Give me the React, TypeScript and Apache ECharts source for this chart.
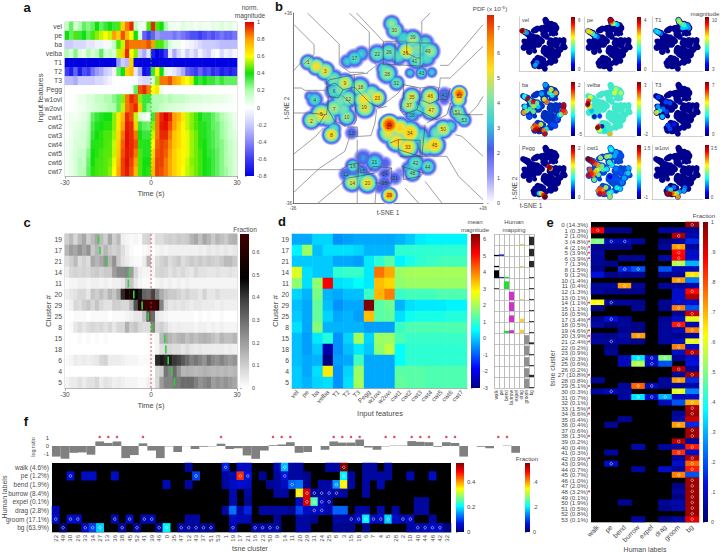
import React, { useEffect, useRef } from "react";
import * as echarts from "echarts";

const FONT = "Liberation Sans";
const INK = "#4a4a4a";

// ---------- panel a ----------
const featureNames = ["vel","pe","ba","velba","T1","T2","T3","Pegg","w1ovi","w2ovi","cwt1","cwt2","cwt3","cwt4","cwt5","cwt6","cwt7"];
const timeBins = ["-30","-28.5","-27","-25.5","-24","-22.5","-21","-19.5","-18","-16.5","-15","-13.5","-12","-10.5","-9","-7.5","-6","-4.5","-3","-1.5","0","1.5","3","4.5","6","7.5","9","10.5","12","13.5","15","16.5","18","19.5","21","22.5","24","25.5","27","28.5"];
const aVel = [.15,.3,.1,.2,.3,.25,.3,.4,.3,.35,.4,.35,.45,.7,.85,.95,.15,.05,.03,.45,.95,.45,.4,.2,.05,.04,.03,.08,.04,.06,.03,.06,.04,.03,.07,.05,.1,.05,.08,.03];
const aPe = [.4,.3,.45,.35,.4,.3,.45,.5,.55,.6,.55,.8,.7,.9,.75,.6,.4,.1,-.5,-.6,-.5,-.35,-.4,-.4,-.4,-.45,-.4,-.45,-.5,-.55,-.55,-.6,-.55,-.5,-.55,-.5,-.45,-.5,-.5,-.45];
const aBa = [-.2,-.2,-.15,-.15,-.15,-.1,-.1,-.05,-.05,-.03,.05,.15,.45,.55,.9,.85,.85,.85,.85,.9,.8,.45,.45,.25,.1,.05,.05,0,-.03,-.05,-.1,-.15,-.2,-.2,-.2,-.22,-.25,-.25,-.25,-.25];
const aVelba = [.2,.1,.25,.1,.05,.2,.1,.15,.3,.1,.15,.1,.55,.7,.95,.6,.5,-.2,-.3,-.1,-.7,-.8,-.75,-.6,-.1,-.3,-.15,-.05,-.2,-.1,-.2,-.05,-.15,-.2,-.05,.02,-.15,-.05,-.1,-.03];
const aT1 = [-.8,-.8,-.8,-.8,-.8,-.8,-.8,-.8,-.8,-.8,-.8,-.8,-.35,-.2,-.25,.7,-.8,-.8,-.8,-.8,-.8,-.8,-.8,-.8,-.8,-.8,-.8,-.8,-.8,-.8,-.8,-.8,-.8,-.8,-.8,-.8,-.8,-.8,-.8,-.8];
const aT2 = [-.6,-.7,-.5,-.7,-.55,-.6,-.45,-.35,-.3,-.2,-.15,-.05,.3,.4,.7,.75,-.1,-.3,-.75,-.7,.35,.6,.4,.1,-.05,-.1,-.2,-.3,-.5,-.55,-.6,-.5,-.6,-.55,-.65,-.6,-.7,-.65,-.7,-.65];
const aT3 = [-.25,-.25,-.3,-.2,-.2,-.2,-.2,-.15,-.15,-.1,-.05,0,0,0,0,0,-.02,-.1,-.15,-.15,.1,.5,.85,.85,.9,.8,.75,.65,.6,.55,.4,.35,.4,.35,.35,.3,.35,.3,.3,.3];
const aPegg = [0,0,0,0,0,0,0,0,0,0,0,0,0,0,0,.05,.3,.9,.95,.85,.6,.65,.05,0,0,0,0,0,0,0,0,0,0,0,0,0,0,0,0,0];
const aW1ovi = [0,0,.02,.05,.05,.1,.1,.15,.15,.2,.2,.25,.3,.5,.85,.95,.9,.5,.35,.35,.2,.2,.2,.15,.2,.15,.15,.15,.12,.1,.1,.1,.08,.08,.07,.06,.06,.05,.03,.02];
const aW2ovi = [0,0,.02,.03,.05,.08,.1,.12,.15,.15,.2,.2,.3,.55,.85,.9,.95,.7,.35,.25,.2,.2,.15,.12,.1,.1,.08,.08,.06,.05,.05,.04,.03,.03,.02,.02,.02,.01,.01,0];
const aCwt1 = [.02,.05,.03,.05,.08,.12,.3,.35,.38,.4,.4,.5,.65,.75,.95,.9,.55,.1,.05,.02,.35,.85,.95,1,.95,.8,.75,.65,.55,.5,.45,.4,.35,.35,.3,.25,.2,.15,.1,.05];
const aCwt2 = [.02,.05,.06,.08,.1,.15,.33,.38,.4,.42,.42,.5,.65,.8,.97,.95,.7,.35,.3,.28,.5,.85,.97,.98,.9,.8,.7,.62,.55,.5,.45,.42,.38,.35,.3,.28,.22,.18,.12,.06];
const aCwt3 = [.02,.04,.08,.1,.12,.18,.35,.4,.42,.45,.45,.52,.68,.85,.98,.95,.85,.4,.35,.35,.55,.85,.95,.95,.85,.72,.68,.62,.58,.52,.48,.42,.38,.35,.32,.28,.22,.18,.12,.08];
const aCwt4 = [.03,.05,.1,.1,.12,.2,.38,.42,.42,.45,.46,.55,.7,.88,.98,.95,.9,.42,.38,.38,.6,.88,.92,.9,.82,.72,.68,.62,.58,.52,.48,.42,.4,.35,.32,.28,.25,.2,.15,.1];
const aCwt5 = [.03,.06,.1,.14,.14,.25,.4,.42,.44,.46,.46,.55,.72,.9,.97,.95,.85,.45,.38,.38,.68,.9,.92,.88,.8,.7,.65,.62,.58,.52,.48,.44,.4,.36,.34,.3,.25,.2,.15,.1];
const aCwt6 = [.03,.06,.1,.18,.15,.28,.4,.44,.44,.46,.48,.58,.75,.92,.98,.92,.8,.45,.4,.4,.72,.92,.92,.85,.78,.7,.65,.62,.56,.5,.48,.44,.4,.38,.34,.3,.25,.2,.16,.1];
const aCwt7 = [.03,.06,.1,.18,.18,.3,.42,.44,.45,.46,.5,.6,.78,.92,.97,.9,.75,.45,.4,.42,.75,.92,.9,.85,.78,.7,.65,.6,.55,.52,.48,.44,.4,.38,.34,.3,.25,.22,.16,.1];
const aRows = [aVel,aPe,aBa,aVelba,aT1,aT2,aT3,aPegg,aW1ovi,aW2ovi,aCwt1,aCwt2,aCwt3,aCwt4,aCwt5,aCwt6,aCwt7];

// ---------- panel b (embedding read in picture units) ----------
const blobs = [
[395,72,4.2,28],[405,92,4.4,30],[430,115,3.4,30],[458,118,4.4,32],[495,130,3.6,30],[510,155,4.4,32],[440,155,5.2,34],[470,150,4,36],[470,180,4,34],[500,175,3.6,30],[352,163,4,32],[387,158,4,34],[415,170,3.6,30],
[484,220,3.6,22],[450,220,3.2,18],[515,218,3.2,18],[382,222,4.4,34],[372,208,3.8,26],[410,250,4,26],
[284,176,3.6,30],[305,162,3.2,26],[262,185,3.2,24],
[145,188,4.4,26],[170,200,5.2,30],[196,214,5,32],[222,238,4,32],
[255,250,5,32],[300,262,4.6,34],[240,270,4,32],[265,297,4.4,32],[222,275,3.6,30],[312,300,5.2,36],[315,325,5,34],[352,294,5.4,30],[335,280,4.4,30],
[165,300,3.6,28],[150,290,3,18],[223,325,4.5,32],[185,344,5.2,38],[155,362,4.8,30],[205,355,4.5,30],[261,352,4.4,30],[250,330,4,30],[240,305,4,30],
[215,405,5.4,30],[222,388,3.8,24],[275,400,2.4,22],
[455,291,5,30],[447,315,4.8,32],[456,346,3.2,26],[475,330,3.5,26],[510,290,5.2,32],[513,331,5,34],[500,310,4.5,30],[553,285,2.6,26],[552,300,2.2,20],
[597,282,6.8,26],[595,300,5.2,26],[592,337,4.4,28],[612,361,3.8,24],[600,350,4,26],
[388,375,7.2,34],[385,400,5,36],[420,385,5.4,36],[449,399,5.6,40],[443,442,5.4,38],[410,425,5.4,36],[480,410,3.6,36],[495,430,4.2,30],[523,436,5.6,36],[500,440,4.8,32],[549,388,5,32],[530,400,4,30],[570,380,3.6,24],
[466,491,3.8,32],[503,501,3.8,28],[457,521,4,28],[445,505,3,24],
[344,488,3.4,34],[310,475,2.6,30],[375,490,2.2,22],[279,499,3.8,26],[258,524,2.6,24],[307,514,2.8,24],[277,548,4.8,32],[323,550,5.2,34],[300,535,3.5,28],
[375,522,2.2,24],[374,550,2.4,26],[405,535,2.3,24],[360,565,2.2,20],[388,587,6.2,26],[420,520,1.5,20],
];
const clusterTags = [
[403,90,"30"],[458,113,"39"],[436,160,"36"],[503,155,"49"],[463,184,"41"],[352,163,"22"],[387,158,"26"],[484,221,"43"],[382,224,"28"],[409,250,"32"],[284,176,"17"],[145,188,"1"],[196,214,"3"],[255,250,"9"],[302,262,"18"],[223,273,"6"],[265,297,"12"],[352,294,"23"],[312,322,"19"],[165,300,"4"],[223,328,"7"],[185,344,"5"],[155,364,"2"],[261,352,"10"],[215,405,"8"],[275,400,"13"],[455,291,"35"],[447,315,"37"],[456,346,"38"],[510,290,"46"],[513,331,"47"],[553,285,"40"],[597,288,"52"],[592,337,"51"],[612,361,"53"],[388,383,"27"],[449,399,"34"],[443,442,"33"],[549,388,"50"],[523,436,"45"],[466,491,"42"],[503,501,"44"],[457,521,"48"],[344,488,"21"],[279,499,"16"],[258,524,"11"],[307,514,"15"],[277,550,"14"],[323,550,"20"],[375,522,"24"],[374,551,"25"],[405,535,"31"],[388,587,"29"],
];
const outerEdges = [
[[100,72],[163,135],[163,165],[130,195]],
[[143,40],[238,133],[238,195],[270,218],[312,218]],
[[268,40],[328,97],[328,165],[350,197],[322,218]],
[[290,40],[370,125],[440,125]],
[[510,40],[485,65],[485,130],[440,128]],
[[668,75],[565,197],[540,197]],
[[668,140],[570,235],[540,235],[538,265],[520,260],[480,265]],
[[100,215],[127,185]],
[[100,265],[125,265],[135,272],[205,272]],
[[100,340],[150,340]],
[[100,465],[168,410],[190,385]],
[[100,510],[245,510]],
[[100,580],[180,505],[255,455],[270,410],[300,410],[333,408],[345,370],[350,330],[415,280],[430,255]],
[[175,610],[265,535]],
[[292,610],[292,420]],
[[345,610],[350,555],[370,545]],
[[475,610],[435,565]],
[[545,610],[495,545]],
[[668,600],[595,530],[560,470],[500,470]],
[[668,470],[605,410],[585,405]],
[[668,290],[650,320],[625,345],[668,345]],
];
const innerEdges = [
[[370,125],[370,195]],
[[405,130],[405,195],[370,195]],
[[405,195],[500,200]],
[[440,128],[440,160],[470,175],[480,175],[480,130]],
[[480,175],[480,195]],
[[485,130],[512,130]],
[[205,272],[200,250],[210,240],[235,235],[283,225],[325,220]],
[[283,225],[283,300],[290,360],[283,375]],
[[200,262],[225,250],[250,270],[235,295],[210,290],[200,262]],
[[250,270],[285,262]],
[[250,290],[280,320]],
[[205,290],[205,330],[225,365],[245,372],[258,380]],
[[283,262],[330,310],[360,325],[380,320]],
[[150,340],[200,345],[205,310]],
[[175,378],[195,345]],
[[262,382],[292,382],[292,412]],
[[430,255],[480,265],[480,300],[470,330],[430,345],[420,330],[430,290],[430,255]],
[[535,265],[535,300],[560,300],[570,265]],
[[480,300],[510,312],[535,300]],
[[470,330],[530,360],[560,345],[570,310],[580,345],[630,345]],
[[500,370],[540,345]],
[[495,375],[485,470]],
[[415,420],[480,422],[480,470],[415,450],[415,420]],
[[390,430],[415,420]],
[[430,500],[430,540],[480,530],[490,520],[425,500]],
[[420,470],[500,470]],
[[360,525],[395,505],[395,550],[345,550]],
[[245,510],[265,495],[295,490],[305,500],[325,520],[340,500],[395,505]],
[[295,490],[295,530]],
[[265,535],[295,530],[345,520]],
];
const pdfTicks = [0,1,2,3,4,5,6,7];

// small t-SNE maps: hot spots [x, y, normalised magnitude]
const velSpots = [[160,195,.5],[185,205,.3],[300,520,.25],[280,550,.3],[145,188,.85],[130,185,1]];
const peSpots = [[250,250,.25],[222,238,.35],[470,120,.35],[440,110,.4],[196,214,.45],[420,110,.55],[145,188,.6],[170,200,.65],[405,92,.8],[395,72,.9],[400,75,.95]];
const t1Spots = [[196,214,.25],[495,130,.3],[510,155,.3],[440,155,.35],[470,150,.35],[145,188,.35],[170,200,.35],[430,115,.45],[458,118,.45],[395,72,.5],[405,92,.55]];
const baSpots = [[215,405,.2],[523,436,.2],[466,491,.2],[503,501,.2],[395,72,.3],[352,163,.3],[170,200,.35],[312,300,.35],[549,388,.35],[160,190,.4],[165,300,.4],[470,180,.4],[405,535,.4],[222,238,.45],[240,270,.45],[223,325,.45],[440,155,.45],[185,344,.5],[300,262,.5],[261,352,.5],[570,380,.5],[265,297,.55],[344,488,.6],[458,118,.6],[382,222,.6],[155,362,.7],[510,155,.7],[258,524,.7],[612,361,.75],[410,250,.75],[307,514,.75],[375,550,.75],[279,499,.8],[600,350,.8],[592,337,.85],[255,250,.9],[597,282,.9],[300,535,.9],[388,587,.9],[196,214,.95],[595,300,.95],[277,548,.95],[323,550,1]];
const velbaSpots = [[300,510,.05],[215,405,.05],[275,400,.15],[185,344,.3],[323,550,.35],[510,155,.55],[458,118,.55],[170,200,.6],[440,155,.6],[165,300,.65],[388,587,.7],[277,548,.6],[262,510,.85],[150,240,.85],[140,280,.95],[145,267,1],[250,523,1]];
const t3Spots = [[344,488,.15],[170,200,.2],[255,250,.2],[300,262,.2],[261,352,.2],[300,535,.2],[279,499,.2],[223,325,.25],[165,300,.3],[215,405,.35],[185,344,.4],[150,362,.6]];
const peggSpots = [[323,550,.35],[345,550,.55],[360,560,.7],[375,570,.9],[388,587,1],[450,290,.7],[430,270,.85],[440,280,1]];
const cwt1Spots = [[388,375,.1],[510,155,.2],[513,331,.2],[449,399,.2],[455,291,.25],[523,436,.25],[458,118,.3],[440,155,.3],[597,282,.3],[549,388,.3],[395,72,.35],[592,337,.35],[503,501,.35],[405,92,.4],[352,294,.4],[410,250,.4],[466,491,.4],[405,535,.4],[312,300,.45],[382,222,.45],[375,550,.45],[300,262,.5],[261,352,.5],[215,405,.5],[387,158,.5],[265,297,.55],[352,163,.55],[284,176,.55],[344,488,.55],[388,587,.55],[240,305,.6],[223,325,.7],[255,250,.7],[307,514,.7],[205,355,.75],[258,524,.75],[222,238,.8],[165,300,.8],[279,499,.8],[185,344,.85],[323,550,.85],[196,214,.9],[155,362,.9],[277,548,.9],[170,200,.95],[145,188,1]];
const w1oviSpots = [[279,499,.25],[344,488,.25],[466,491,.25],[405,535,.3],[457,521,.3],[307,514,.4],[375,550,.5],[345,555,.65],[388,587,.7],[323,550,.8],[277,548,.9],[300,560,1]];

// ---------- panel c ----------
const clusterRows = ["19","17","21","14","11","20","29","25","8","15","18","6","4","5"];
const cC19 = [.1,.14,.08,.14,.18,.1,.14,.18,.14,.1,.18,.1,.14,.03,.02,.01,.02,.01,.08,.09,.02,.07,.07,.09,.1,.09,.11,.1,.11,.15,.18,.13,.18,.15,.11,.15,.13,.11,.15,.16];
const cC17 = [.15,.2,.18,.22,.18,.22,.11,.15,.11,.15,.11,.09,.11,.07,.03,.01,0,0,.01,.02,0,.02,.03,.02,.03,.03,.03,.03,.03,.03,.03,.04,.03,.05,.04,.05,.04,.05,.04,.05];
const cC21 = [.07,.1,.14,.07,.09,.07,.18,.15,.18,.22,.15,.22,.11,.06,.04,.02,.01,.01,.04,.15,.02,.07,.09,.11,.07,.09,.11,.07,.09,.11,.09,.11,.09,.11,.1,.09,.11,.14,.14,.11];
const cC14 = [.04,.08,.09,.08,.09,.08,.1,.11,.09,.11,.11,.2,.24,.24,.25,.2,.08,.03,.02,.02,.02,.08,.09,.08,.06,.08,.06,.08,.06,.05,.08,.06,.06,.05,.05,.06,.05,.05,.06,.05];
const cC11 = [.01,.02,.02,.03,.03,.02,.03,.03,.02,.03,.02,.03,.03,.05,.12,.12,.05,.02,.01,.01,0,.02,.03,.02,.03,.02,.03,.02,.03,.02,.02,.02,.02,.02,.02,.02,.02,.02,.02,.02];
const cC20 = [.03,.05,.06,.08,.08,.05,.12,.1,.13,.1,.15,.12,.18,.42,.56,.56,.5,.45,.32,.3,.38,.25,.17,.13,.11,.11,.09,.07,.09,.07,.07,.05,.09,.05,.05,.07,.05,.05,.05,.05];
const cC29 = [.01,.03,.08,.07,.1,.12,.08,.12,.08,.06,.06,.1,.1,.08,.08,.15,.35,.6,.65,.65,.68,.62,.25,.08,.05,.06,.05,.06,.05,.04,.05,.05,.04,.04,.04,.03,.04,.03,.03,.03];
const cC25 = [0,0,.01,.01,.01,0,.01,.01,.01,.01,0,.01,.01,.01,.02,.03,.05,.05,.12,.35,.3,.05,.03,.02,.01,.01,.01,.01,.01,.01,0,.01,0,.01,0,0,.01,0,0,0];
const cC8 = [0,.01,.05,.07,.05,.07,.08,.07,.08,.06,.08,.05,.08,.08,.16,.1,.12,.08,.07,.07,.25,.08,.1,.07,.04,.03,.04,.03,.03,.03,.02,.03,.03,.02,.03,.02,.03,.02,.02,.02];
const cC15 = [0,0,0,.01,0,.01,0,.01,0,.01,0,0,0,0,0,0,0,0,0,.01,.01,.02,.14,.18,.15,.13,.15,.16,.13,.15,.13,.15,.16,.15,.13,.11,.15,.13,.13,.15];
const cC18 = [0,0,0,0,0,0,0,0,0,0,0,0,0,0,0,0,0,0,0,0,0,.02,.07,.08,.08,.07,.07,.05,.07,.05,.04,.05,.04,.04,.04,.04,.04,.03,.04,.03];
const cC6 = [.01,.02,.04,.03,.04,.03,.04,.05,.08,.09,.04,.04,.04,.03,.02,.02,.02,.01,.01,.01,.02,.42,.45,.42,.44,.4,.38,.34,.3,.25,.28,.25,.22,.28,.24,.22,.25,.22,.2,.22];
const cC4 = [0,0,0,0,0,0,0,0,0,0,0,0,0,0,0,0,0,0,0,0,0,.08,.1,.28,.25,.3,.22,.15,.16,.15,.14,.15,.16,.15,.14,.15,.14,.15,.14,.15];
const cC5 = [.02,.04,.04,.06,.04,.06,.06,.08,.04,.06,.05,.03,.04,.03,.02,.02,.02,.01,.01,.03,.02,.08,.2,.25,.25,.28,.27,.3,.3,.3,.26,.22,.24,.26,.2,.22,.2,.22,.2,.18];
const cRows = [cC19,cC17,cC21,cC14,cC11,cC20,cC29,cC25,cC8,cC15,cC18,cC6,cC4,cC5];
const cPeakTimes = [-18.3,-17.8,-15.5,-7.9,-7.9,-6,-3.1,-1,.3,4.8,5.2,6,7.2,8.2];

// ---------- panel d ----------
const dRows = [
[-.3,-.3,.1,.1,-.5,-.4,-.3,-.3,-.3,-.3,-.2,0,.3,.4,.4,.4,.4],
[.4,1.9,-.1,.2,.2,.2,.1,-.2,-.2,-.2,.9,.9,.9,.9,.9,.9,.9],
[0,0,0,0,-.3,-.3,-.4,.3,.9,1.3,.4,.7,.9,1,1.1,1.1,1.1],
[2.5,.2,0,0,.9,1,1,.3,4.1,3.6,1.9,2,2,2,2,2,2],
[1.8,.2,1.8,5.2,.2,.3,.5,.3,3.4,3.2,1.8,1.9,1.9,1.9,1.9,1.9,1.9],
[.1,-.2,1.6,-.2,-.3,-.1,-.1,1,3.5,4,1,1.1,1.1,1.1,1.2,1.2,1.2],
[-.1,-.3,1.4,-.1,-.5,-.3,-.3,6.3,1.3,1.5,-.2,.2,.3,.3,.3,.4,.4],
[0,-.3,1.4,.1,-.3,-.2,-.4,3.4,1.3,1.4,.2,.6,.7,.7,.7,.8,.8],
[.2,-.3,1.7,-.2,-.2,-.2,-.2,-.4,-.4,-.4,1,1.2,1.2,1.2,1.2,1.2,1.2],
[-.1,-.4,.3,.8,-.5,.1,2,.1,1.9,1.9,1.2,1,1,1,1,1,1],
[-.1,-.4,0,-2.6,-.5,-.1,.3,0,1.8,2.2,.5,.9,.9,.9,.9,.9,.9],
[-.1,-.3,-.2,-3,-.4,-.3,1.1,-.3,-.3,-.3,.5,.9,.9,.9,.9,.9,.9],
[0,-.3,.2,3,-.5,.1,1.9,-.3,-.3,-.3,1.3,1.3,1.3,1.2,1.2,1.2,1.2],
[0,-.2,.1,.2,-.5,.2,2,-.3,-.3,-.3,1.4,1.3,1.3,1.2,1.2,1.2,1.2],
];
const humanNames = ["walk","pe","bend","burrow","expel","drag","groom","bg"];
// human mapping: [human column, cluster row, fraction]
const mapBars = [
[7,0,.75],[5,0,.1],[1,1,.15],[0,1,.1],[7,1,.65],[0,2,.1],[5,2,.08],[7,2,.55],[0,3,.7],[1,3,.1],[2,3,.1],[7,3,.08],
[2,4,.7],[0,4,.06],[7,4,.08],[3,5,.75],[5,5,.08],[7,5,.08],[3,6,.8],[7,6,.08],[3,7,.6],[5,7,.3],[7,7,.08],
[2,8,.2],[3,8,.25],[5,8,.3],[7,8,.08],[6,9,.8],[7,9,.15],[6,10,.85],[7,10,.08],[6,11,.8],[7,11,.08],[6,12,.8],[7,12,.2],[6,13,.85],[7,13,.08],
];

// ---------- panel e ----------
const eRowLabels = ["0 (14.3%)","1 (0.3%)","2 (1.0%)","3 (4.8%)","4 (2.1%)","5 (3.9%)","6 (3.9%)","7 (1.3%)","8 (1.5%)","9 (1.2%)","10 (1.4%)","11 (0.4%)","12 (1.3%)","13 (0.1%)","14 (1.1%)","15 (1.1%)","16 (0.5%)","17 (3.4%)","18 (0.5%)","19 (4.6%)","20 (3.9%)","21 (2.4%)","22 (0.2%)","23 (0.9%)","24 (0.3%)","25 (0.6%)","26 (0.2%)","27 (10.8%)","28 (0.8%)","29 (5.1%)","30 (0.3%)","31 (0.7%)","32 (0.1%)","33 (1.5%)","34 (6.6%)","35 (0.4%)","36 (0.4%)","37 (0.6%)","38 (1.3%)","39 (0.2%)","40 (0.4%)","41 (0.3%)","42 (0.9%)","43 (0.9%)","44 (0.7%)","45 (0.7%)","46 (1.0%)","47 (2.0%)","48 (3.2%)","49 (0.1%)","50 (1.9%)","51 (0.5%)","52 (0.8%)","53 (0.1%)"];
const eRows = [
[0,0,0,0,0,0,0,.98],
[.88,.03,.03,0,0,.05,.05,.05],
[0,0,0,0,0,0,.95,.07],
[.5,.08,.08,.05,0,.02,.05,.15],
[.03,.03,.03,0,0,.05,.72,.05],
[.05,0,0,0,0,0,.87,.1],
[.05,0,.04,.04,0,.06,.88,.1],
[.04,.03,0,0,0,0,.55,.3],
[.03,0,.15,.2,0,.2,.08,.08],
[.12,.03,.04,.04,0,.03,.05,.65],
[0,0,0,0,0,0,.72,.25],
[.05,.05,.72,.05,0,.05,.05,.06],
[.05,.03,.03,.03,0,0,.1,.87],
[0,0,0,0,0,0,.1,.95],
[.62,.05,.05,.03,0,.04,.1,.1],
[.03,0,0,.04,0,.03,.75,.2],
[0,0,0,0,0,0,.04,.93],
[.03,.12,.04,0,0,.03,.1,.6],
[.06,.02,.05,.03,0,.05,.85,.07],
[0,0,.03,.02,0,.05,.08,.75],
[.04,.03,.06,.72,0,.05,.03,.05],
[.05,.05,.05,.03,0,.05,.08,.6],
[0,.02,0,0,0,0,.75,.1],
[0,.04,0,0,0,0,.1,.95],
[0,0,.08,.35,.1,.5,.04,.1],
[0,0,.08,.55,.1,.2,0,.12],
[0,0,0,0,0,0,.95,.05],
[0,0,0,0,0,0,.05,.97],
[.04,0,0,0,0,.05,.72,.15],
[0,0,.05,.78,.08,.04,.05,.06],
[.05,.08,.05,0,0,0,.6,.25],
[0,0,.05,.35,.1,.3,.08,.1],
[0,0,0,0,0,.08,.2,.7],
[0,0,0,0,0,0,0,.95],
[0,0,0,0,0,0,.04,.97],
[0,0,.04,0,0,0,.06,.93],
[0,.04,0,0,0,0,.72,.15],
[0,0,0,0,0,0,0,.97],
[0,0,0,0,0,0,0,.97],
[0,0,0,0,0,0,.95,.05],
[0,0,0,.06,0,.05,.06,.85],
[0,.05,0,0,0,0,.83,.1],
[0,0,0,0,0,0,.05,.95],
[0,.1,0,0,0,0,.1,.78],
[0,0,0,.05,0,.1,.05,.85],
[0,0,0,0,0,0,.75,.2],
[0,0,0,0,0,0,0,.97],
[0,0,0,0,0,0,.02,.97],
[0,0,0,0,0,0,.05,.97],
[0,0,0,0,0,0,.02,.97],
[0,0,.04,0,0,.05,.06,.97],
[0,0,0,0,0,.03,.06,.97],
[0,0,0,0,0,0,0,.97],
[0,0,0,.05,0,.02,.05,.9],
];
// significant cells: [human column, cluster row]
const eMarks = [[7,0],[0,1],[6,2],[0,3],[1,3],[2,3],[6,4],[6,5],[6,6],[6,7],[2,8],[3,8],[7,9],[6,10],[2,11],[7,12],[0,14],[1,14],[6,15],[7,16],[1,17],[6,18],[7,19],[3,20],[1,21],[7,21],[6,22],[7,23],[3,24],[4,24],[5,24],[3,25],[4,25],[6,26],[7,27],[6,28],[3,29],[4,29],[1,30],[6,30],[3,31],[4,31],[5,31],[7,32],[7,33],[7,34],[6,36],[7,37],[7,38],[6,39],[7,40],[6,41],[7,42],[1,43],[7,43],[7,44],[6,45],[7,46],[7,47],[7,48],[7,49],[7,50],[7,51],[7,52],[7,53]];
const eStarRows = [3,4,5,6,14,17,19,20,21,27,29,33,34,38,42,48];

// ---------- panel f ----------
const fClusters = ["22","49","30","26","33","34","27","13","36","38","45","52","41","39","46","0","35","47","12","43","37","51","53","1","19","17","21","16","23","50","9","14","11","20","29","31","24","25","8","3","15","18","6","7","4","5","28","2","10","40","44","48","42","32"];
const fHuman = ["walk (4.6%)","pe (1.2%)","bend (1.9%)","burrow (8.4%)","expel (0.1%)","drag (2.8%)","groom (17.1%)","bg (63.9%)"];
const fWalk = {18:.03,23:.08,25:.05,26:.05,30:.04,31:.17,32:.03,33:.03,37:.03,38:.03,39:.55,42:.03,43:.03,45:.03};
const fPe = {2:.06,4:.05,5:.05,8:.05,19:.1,23:.03,24:.04,25:.46,26:.07,28:.02,30:.03,31:.07,32:.03,33:.03,34:.02,39:.2,40:.03,42:.03,43:.03,44:.03,45:.03,48:.04,51:.05};
const fBend = {15:.04,18:.03,23:.03,24:.05,25:.06,26:.05,29:.02,30:.03,31:.05,32:.12,33:.13,34:.02,36:.03,37:.03,38:.15,39:.35,40:.03,42:.03,44:.04};
const fBurrow = {24:.04,26:.03,30:.03,31:.03,33:.35,34:.5,35:.03,36:.03,37:.04,38:.03,39:.03,42:.03};
const fExpel = {24:.04,26:.02,33:.05,34:.5,35:.25,36:.05,37:.03,49:.03,50:.03};
const fDrag = {0:.04,23:.03,24:.13,25:.03,26:.08,28:.03,29:.03,30:.03,31:.03,32:.02,33:.1,34:.05,35:.05,36:.05,37:.04,38:.12,39:.12,41:.03,42:.03,44:.04,46:.03,49:.03,50:.03};
const fGroom = {0:.05,2:.05,3:.05,8:.04,10:.05,12:.04,13:.04,18:.03,19:.03,24:.05,25:.04,26:.04,30:.02,33:.03,34:.03,35:.02,38:.03,39:.03,40:.03,41:.05,42:.2,43:.05,44:.05,45:.18,46:.05,47:.04,48:.05,51:.03};
const fBg = {1:.01,4:.05,5:.1,6:.18,9:.03,11:.03,14:.03,15:.2,17:.03,18:.03,19:.03,20:.02,21:.02,24:.04,27:.03,28:.03,29:.03,30:.03,33:.03,34:.03,38:.02,39:.02,40:.02,42:.02,48:.03,49:.04,50:.04,51:.05,52:.05,53:.01};
const fRows = [fWalk,fPe,fBend,fBurrow,fExpel,fDrag,fGroom,fBg];
// significant cells: [cluster column, human row]
const fMarks = [[23,0],[31,0],[39,0],[2,1],[19,1],[25,1],[26,1],[31,1],[39,1],[32,2],[38,2],[39,2],[33,3],[34,3],[35,3],[36,3],[37,3],[38,3],[34,4],[35,4],[36,4],[37,4],[0,6],[2,6],[3,6],[8,6],[10,6],[12,6],[13,6],[35,5],[36,5],[40,6],[41,6],[42,6],[43,6],[44,6],[45,6],[47,6],[48,6],[1,7],[4,7],[5,7],[6,7],[9,7],[11,7],[14,7],[15,7],[17,7],[18,7],[19,7],[20,7],[21,7],[24,7],[27,7],[28,7],[29,7],[30,7],[49,7],[50,7],[51,7],[52,7]];
const logRatio = [-1.4,-1.7,-.9,-.85,-1.15,.6,.4,.6,-1.6,-1.2,.35,-.6,-1.6,-.05,-.8,-.02,-.4,-.1,-.05,.3,-.4,-.3,-1.25,-1.7,-.6,.1,.2,.5,-.9,-.8,0,-.5,.6,.45,.45,.85,-.2,-.5,-.05,.05,.05,.65,.55,.5,-.1,.5,.4,-1.4,0,-.1,-.3,0,.05,-.9];
const logStars = [5,6,7,10,19,25,26,27,32,33,34,35,38,39,41,42,43,45,46,51,52];

// ---------- colour scales ----------
const aColors = ["#0000e0","#3c3cf4","#8888fa","#ccccff","#ffffff","#b0ffb0","#10e010","#ffff00","#ffa000","#e00000"];
const greyColors = ["#ffffff","#d0d0d0","#a0a0a0","#707070","#404040","#000000","#200000","#400000"];
const jetColors = ["#00007f","#0000ff","#0080ff","#00ffff","#80ff80","#ffff00","#ff8000","#ff0000","#7f0000"];
const cellColors = ["#00006f","#0010e0","#0080ff","#00ffff","#80ff80","#ffff00","#ff8000","#ff0000","#7f0000"];
const pdfColors = ["#ffffff","#9a9af8","#4a5cea","#38cfd8","#8fe6a0","#ffe020","#ff9000","#e02000"];
const pdfLevels = [.12,.3,.5,.75,1,1.3,1.6,1.9,2.2,2.5,2.8,3.1,3.4,3.7,4,4.3,4.6,4.9,5.2,5.6,6,6.5,7];

function hex(c: string) { return [1,3,5].map((i) => parseInt(c.slice(i, i + 2), 16)); }
function ramp(colors: string[], t: number) {
  const p = Math.max(0, Math.min(1, t)) * (colors.length - 1);
  const i = Math.min(colors.length - 2, Math.floor(p));
  const a = hex(colors[i]); const b = hex(colors[i + 1]); const f = p - i;
  return `rgb(${a.map((v, k) => Math.round(v + (b[k] - v) * f)).join(",")})`;
}
// contour radius of a blob at density level x = level / peak
function contour(x: number) {
  return x < .8 ? 1 - .6 * x : .52 * Math.sqrt(Math.max(0, (1 - x) / .2));
}

function buildOption() {
  const grid: any[] = [], xAxis: any[] = [], yAxis: any[] = [], series: any[] = [], visualMap: any[] = [], graphic: any[] = [];
  const axisLabel = (size = 7.5, extra: any = {}) => ({ fontSize: size, color: INK, margin: 3, fontFamily: FONT, ...extra });
  const addGrid = (x0: number, y0: number, x1: number, y1: number, extra: any = {}) => {
    grid.push({ left: x0, top: y0, width: x1 - x0, height: y1 - y0, ...extra });
    return grid.length - 1;
  };
  const addX = (a: any) => { xAxis.push(a); return xAxis.length - 1; };
  const addY = (a: any) => { yAxis.push(a); return yAxis.length - 1; };
  const text = (t: string, x: number, y: number, size = 8, opt: any = {}) => {
    const { rotation, ...style } = opt;
    graphic.push({ type: "text", x, y, rotation: rotation || 0, z: 50, style: { text: t, fill: INK, fontSize: size, fontFamily: FONT, align: "center", verticalAlign: "middle", ...style } });
  };
  const heat = (g: number, xi: number, yi: number, data: any[], colors: string[], min: number, max: number) => {
    series.push({ type: "heatmap", xAxisIndex: xi, yAxisIndex: yi, data, progressive: 0, z: 2 });
    visualMap.push({ show: false, type: "continuous", seriesIndex: series.length - 1, dimension: 2, min, max, inRange: { color: colors } });
  };
  const colorbar = (x0: number, y0: number, x1: number, y1: number, colors: string[], min: number, max: number, ticks: number[], fmt: (v: number) => string, size = 7) => {
    graphic.push({ type: "rect", z: 40, shape: { x: x0, y: y0, width: x1 - x0, height: y1 - y0 }, style: { fill: new echarts.graphic.LinearGradient(0, 1, 0, 0, colors.map((c, i) => ({ offset: i / (colors.length - 1), color: c }))) } });
    const g = addGrid(x0, y0, x1, y1);
    addX({ gridIndex: g, type: "value", show: false, min: 0, max: 1 });
    addY({ gridIndex: g, type: "value", position: "right", min, max, axisLine: { show: false }, splitLine: { show: false },
      axisTick: { show: true, length: 1.5, customValues: ticks, lineStyle: { color: "#666", width: .6 } },
      axisLabel: axisLabel(size, { customValues: ticks, formatter: fmt, margin: 3 }) });
  };
  const thinLine = { lineStyle: { color: "#888", width: .7 } };
  const zeroLine = (g: number, xv: number, color: string) => {
    const yv = addY({ gridIndex: g, type: "value", min: 0, max: 1, show: false });
    series.push({ type: "line", xAxisIndex: xv, yAxisIndex: yv, z: 6, symbol: "none", silent: true, data: [[0, 0], [0, 1]], lineStyle: { color, type: [2, 2], width: .8 } });
  };

  // ----- a
  {
    const g = addGrid(65, 22, 237, 176, { show: true, borderColor: "#aaa", borderWidth: .7 });
    const xc = addX({ gridIndex: g, type: "category", data: timeBins, show: false });
    const xv = addX({ gridIndex: g, type: "value", min: -30, max: 30, interval: 30, position: "bottom", axisLine: { onZero: false, ...thinLine }, axisTick: { length: 3, ...thinLine }, splitLine: { show: false }, axisLabel: axisLabel(6.5) });
    const y = addY({ gridIndex: g, type: "category", data: featureNames, inverse: true, axisLine: thinLine, axisTick: { length: 2, ...thinLine }, axisLabel: axisLabel(6.8, { interval: 0 }) });
    const data: any[] = [];
    aRows.forEach((row, r) => row.forEach((v, c) => data.push([c, r, v])));
    heat(g, xc, y, data, aColors, -.8, 1);
    zeroLine(g, xv, "#20c020");
    colorbar(245, 22, 254, 176, aColors, -.8, 1, [-.8,-.6,-.4,-.2,0,.2,.4,.6,.8,1], (v) => String(+v.toFixed(1)), 5.5);
    text("norm.", 250, 7, 6.5); text("magnitude", 250, 15, 6.5);
    text("a", 27, 7, 13, { fontWeight: "bold", fill: "#111" });
    text("Input features", 40, 98, 8, { rotation: Math.PI / 2 });
    text("Time (s)", 151, 193, 7.5);
  }

  // ----- b
  {
    const g = addGrid(293, 13, 483, 203);
    const x = addX({ gridIndex: g, type: "value", min: 100, max: 668, position: "bottom", splitLine: { show: false },
      axisLine: { onZero: false, lineStyle: { color: "#555", width: .8 } },
      axisTick: { show: false }, axisLabel: axisLabel(4.5, { customValues: [100, 668], formatter: (v: number) => (v < 300 ? "-36" : "+36"), margin: 3 }) });
    const y = addY({ gridIndex: g, type: "value", min: 40, max: 610, inverse: true, position: "left", splitLine: { show: false },
      axisLine: { onZero: false, lineStyle: { color: "#555", width: .8 } },
      axisTick: { show: false }, axisLabel: axisLabel(4.5, { customValues: [40, 610], formatter: (v: number) => (v < 300 ? "+36" : "-36"), margin: 1 }) });
    const unit = 190 / 568;
    pdfLevels.forEach((t, i) => {
      series.push({ type: "scatter", xAxisIndex: x, yAxisIndex: y, z: 10 + i, silent: true,
        data: blobs.filter((b) => b[2] > t),
        symbolSize: (v: number[]) => 2 * v[3] * 1.08 * unit * contour(t / v[2]),
        itemStyle: { color: ramp(pdfColors, t / 7), opacity: 1 } });
    });
    const flat = (list: number[][][]) => list.flatMap((l) => [...l, [null, null]]);
    series.push({ type: "line", xAxisIndex: x, yAxisIndex: y, z: 40, symbol: "none", connectNulls: false, data: flat(outerEdges as any), lineStyle: { color: "#777", width: .7 } });
    series.push({ type: "line", xAxisIndex: x, yAxisIndex: y, z: 40, symbol: "none", connectNulls: false, data: flat(innerEdges as any), lineStyle: { color: "#444", width: .6 } });
    series.push({ type: "scatter", xAxisIndex: x, yAxisIndex: y, z: 41, symbolSize: 0, data: clusterTags,
      label: { show: true, position: "inside", formatter: (p: any) => p.value[2], fontSize: 5, color: "#222", fontFamily: FONT } });
    colorbar(487, 15, 494, 203, pdfColors, 0, 7.5, pdfTicks, (v) => String(v), 5.5);
    text("PDF (x 10\u207B\u2075)", 490, 8, 6.2);
    text("b", 279, 6, 13, { fontWeight: "bold", fill: "#111" });
    text("t-SNE 1", 388, 212, 6.5);
    text("t-SNE 2", 286, 108, 6.5, { rotation: Math.PI / 2 });
  }

  // ----- small t-SNE maps
  const small: any[] = [
    ["vel", velSpots, "#00008f", 519, 17, "6", "0", 571],
    ["pe", peSpots, "#00008f", 584, 17, "4", "0", 637],
    ["T1", t1Spots, "#00008f", 652, 17, "10", "3", 705],
    ["ba", baSpots, "#0030c0", 519, 82, "2", "-5", 571],
    ["velba", velbaSpots, "#40e8cc", 584, 82, "3", "-2", 637],
    ["T3", t3Spots, "#00008f", 652, 82, "7", "0", 705],
    ["Pegg", peggSpots, "#00008f", 519, 145, "2", "0", 571],
    ["cwt1", cwt1Spots, "#0048d8", 584, 145, "1.5", "-1", 637],
    ["w1ovi", w1oviSpots, "#00008f", 652, 145, "3.5", "0", 705],
  ];
  small.forEach(([name, spots, base, px, py, hi, lo, bx]) => {
    const g = addGrid(px, py, px + 51, py + 54);
    const x = addX({ gridIndex: g, type: "value", min: 100, max: 668, position: "bottom", axisLine: { onZero: false, lineStyle: { color: "#bbb", width: .7 } }, axisTick: { show: false }, axisLabel: { show: false }, splitLine: { show: false } });
    const y = addY({ gridIndex: g, type: "value", min: 40, max: 610, inverse: true, position: "left", axisLine: { onZero: false, lineStyle: { color: "#bbb", width: .7 } }, axisTick: { show: false }, axisLabel: { show: false }, splitLine: { show: false } });
    series.push({ type: "scatter", xAxisIndex: x, yAxisIndex: y, z: 3, silent: true, data: blobs, symbolSize: (v: number[]) => 2 * v[3] * .09 * 1.25, itemStyle: { color: base, opacity: 1 } });
    series.push({ type: "scatter", xAxisIndex: x, yAxisIndex: y, z: 4, silent: true, data: spots, symbolSize: 5, itemStyle: { color: (p: any) => ramp(jetColors, p.value[2]), opacity: .85 } });
    text(name, px + 3, py + 3, 5.5, { align: "left", fill: "#444" });
    colorbar(bx, py, bx + 4, py + 54, jetColors, 0, 1, [.02, .94], (v) => (v > .5 ? hi : lo), 4.5);
  });
  text("magnitude", 705, 13, 6.2);
  text("t-SNE 2", 514, 188, 6.5, { rotation: Math.PI / 2 });
  text("t-SNE 1", 531, 205, 6.5);

  // ----- c
  {
    const g = addGrid(65, 234, 237, 388, { show: true, borderColor: "#aaa", borderWidth: .7 });
    const xc = addX({ gridIndex: g, type: "category", data: timeBins, show: false });
    const xv = addX({ gridIndex: g, type: "value", min: -30, max: 30, interval: 30, position: "bottom", axisLine: { onZero: false, ...thinLine }, axisTick: { length: 3, ...thinLine }, splitLine: { show: false }, axisLabel: axisLabel(6.5) });
    const y = addY({ gridIndex: g, type: "category", data: clusterRows, inverse: true, axisLine: thinLine, axisTick: { length: 2, ...thinLine }, axisLabel: axisLabel(6.8, { interval: 0 }) });
    const data: any[] = [];
    cRows.forEach((row, r) => row.forEach((v, c) => data.push([c, r, v])));
    heat(g, xc, y, data, greyColors, 0, .68);
    series.push({ type: "scatter", xAxisIndex: xv, yAxisIndex: y, z: 7, symbol: "rect", symbolSize: [1.6, 8], data: cPeakTimes.map((t, i) => [t, clusterRows[i]]), itemStyle: { color: "#30d040", opacity: 1 } });
    zeroLine(g, xv, "#d03040");
    colorbar(240, 234, 249, 388, greyColors, 0, .68, [0,.1,.2,.3,.4,.5,.6], (v) => String(+v.toFixed(1)), 5.5);
    text("Fraction", 245, 229, 6.5);
    text("c", 27, 222, 13, { fontWeight: "bold", fill: "#111" });
    text("Cluster #", 48, 311, 8, { rotation: Math.PI / 2 });
    text("Time (s)", 151, 405, 7.5);
  }

  // ----- d
  {
    const g = addGrid(292, 234, 467, 388);
    const x = addX({ gridIndex: g, type: "category", data: featureNames, position: "bottom", axisLine: thinLine, axisTick: { length: 2, ...thinLine }, axisLabel: axisLabel(6.3, { interval: 0, rotate: 45 }) });
    const y = addY({ gridIndex: g, type: "category", data: clusterRows, inverse: true, axisLine: thinLine, axisTick: { length: 2, ...thinLine }, axisLabel: axisLabel(6.8, { interval: 0 }) });
    const data: any[] = [];
    dRows.forEach((row, r) => row.forEach((v, c) => data.push([c, r, v])));
    heat(g, x, y, data, jetColors, -3, 6.3);
    colorbar(471, 234, 480, 388, jetColors, -3, 6.3, [-3,-2,-1,0,1,2,3,4,5,6], (v) => String(v), 5.5);
    text("mean", 475, 222, 6); text("magnitude", 475, 230, 6);
    text("d", 282, 221, 13, { fontWeight: "bold", fill: "#111" });
    text("Cluster #", 275, 311, 8, { rotation: Math.PI / 2 });
    text("Input features", 380, 413, 7.5);
  }

  // ----- human mapping
  {
    const g = addGrid(494, 234, 534, 388);
    const xc = addX({ gridIndex: g, type: "category", data: humanNames, position: "bottom", axisLine: { show: false }, axisTick: { show: false }, axisLabel: axisLabel(4.8, { interval: 0, rotate: 90, margin: 2 }) });
    const xv = addX({ gridIndex: g, type: "value", min: 0, max: 8, interval: 1, show: true, position: "top", axisLine: { show: false }, axisTick: { show: false }, axisLabel: { show: false }, splitLine: { show: true, lineStyle: { color: "#b4b4b4", width: .9 } } });
    const y = addY({ gridIndex: g, type: "value", min: 0, max: 14, interval: 1, inverse: true, axisLine: { show: false }, axisTick: { show: false }, axisLabel: { show: false }, splitLine: { show: true, lineStyle: { color: "#aaa", width: .7 } } });
    const mapColors = ["#000000","#2030c8","#20e030","#d030c8","#999999","#f0d040","#909090","#2a2a2a"];
    series.push({ type: "custom", xAxisIndex: xv, yAxisIndex: y, z: 4, data: mapBars, encode: { x: 0, y: 1 },
      renderItem: (_: any, api: any) => {
        const col = api.value(0), row = api.value(1), f = api.value(2);
        const a = api.coord([col, row + 1 - f]), b = api.coord([col + 1, row + 1]);
        return { type: "rect", shape: { x: a[0], y: a[1], width: b[0] - a[0], height: b[1] - a[1] }, style: { fill: mapColors[col] } };
      } });
    series.push({ type: "scatter", xAxisIndex: xc, yAxisIndex: y, data: [], silent: true });
    text("Human", 514, 222, 6); text("mapping", 514, 230, 6);
  }

  // ----- e
  {
    const g = addGrid(591, 222, 699, 522, { show: true, backgroundColor: "#000", borderWidth: 0 });
    const x = addX({ gridIndex: g, type: "category", data: humanNames, position: "bottom", axisLine: thinLine, axisTick: { show: false }, axisLabel: axisLabel(6.8, { interval: 0, rotate: 45, margin: 4 }) });
    const y = addY({ gridIndex: g, type: "category", data: eRowLabels, inverse: true, axisLine: { show: false }, axisTick: { show: false }, axisLabel: axisLabel(6.2, { interval: 0, margin: 3 }) });
    const data: any[] = [];
    eRows.forEach((row, r) => row.forEach((v, c) => { if (v > 0) data.push([c, r, v]); }));
    heat(g, x, y, data, cellColors, 0, 1);
    series.push({ type: "scatter", xAxisIndex: x, yAxisIndex: y, z: 5, silent: true, data: eMarks, symbolSize: 2.6, itemStyle: { color: "rgba(0,0,0,0)", borderColor: "#fff", borderWidth: .5, opacity: 1 } });
    const gs = addGrid(587, 222, 591, 522);
    const xs = addX({ gridIndex: gs, type: "value", min: 0, max: 1, show: false });
    const ys = addY({ gridIndex: gs, type: "category", data: eRowLabels, inverse: true, show: false });
    series.push({ type: "scatter", xAxisIndex: xs, yAxisIndex: ys, z: 6, silent: true, symbolSize: 2, data: eStarRows.map((r) => [.5, eRowLabels[r]]), itemStyle: { color: "#e05060", opacity: 1 } });
    colorbar(703, 222, 708, 522, cellColors, 0, 1, [0,.1,.2,.3,.4,.5,.6,.7,.8,.9,1], (v) => (v === 0 ? "0" : v === 1 ? "1" : String(+v.toFixed(1)).replace("0.", ".")), 5.2);
    text("Fraction", 704, 215, 6.2);
    text("e", 550, 222, 13, { fontWeight: "bold", fill: "#111" });
    text("tsne cluster", 552, 368, 7, { rotation: Math.PI / 2 });
    text("Human labels", 645, 549, 7);
  }

  // ----- f bars
  {
    const g = addGrid(52, 435, 520, 460);
    const x = addX({ gridIndex: g, type: "category", data: fClusters, show: false });
    const y = addY({ gridIndex: g, type: "value", min: -1.85, max: 1.45, axisLine: thinLine, splitLine: { show: false }, axisTick: { length: 2, customValues: [-1,0,1], ...thinLine }, axisLabel: axisLabel(6, { customValues: [-1,0,1], margin: 3 }) });
    series.push({ type: "bar", xAxisIndex: x, yAxisIndex: y, z: 3, barWidth: "100%", data: logRatio, itemStyle: { color: "#808080" } });
    series.push({ type: "scatter", xAxisIndex: x, yAxisIndex: y, z: 4, silent: true, symbolSize: 2.5, data: logStars.map((b) => [fClusters[b], 1.2]), itemStyle: { color: "#e05060", opacity: 1 } });
    text("log ratio", 33, 447, 5.5, { rotation: Math.PI / 2 });
    text("f", 26, 421, 13, { fontWeight: "bold", fill: "#111" });
  }

  // ----- f heat
  {
    const g = addGrid(52, 463, 451, 532, { show: true, backgroundColor: "#000", borderWidth: 0 });
    const x = addX({ gridIndex: g, type: "category", data: fClusters, position: "bottom", axisLine: thinLine, axisTick: { show: false }, axisLabel: axisLabel(6, { interval: 0, rotate: 90, margin: 3 }) });
    const y = addY({ gridIndex: g, type: "category", data: fHuman, inverse: true, axisLine: { show: false }, axisTick: { show: false }, axisLabel: axisLabel(6.5, { interval: 0, margin: 3 }) });
    const data: any[] = [];
    fRows.forEach((row: any, r) => Object.keys(row).forEach((k) => data.push([+k, r, row[k]])));
    heat(g, x, y, data, cellColors, 0, .55);
    series.push({ type: "scatter", xAxisIndex: x, yAxisIndex: y, z: 5, silent: true, data: fMarks, symbolSize: 2.6, itemStyle: { color: "rgba(0,0,0,0)", borderColor: "#fff", borderWidth: .5, opacity: 1 } });
    colorbar(456, 463, 464, 532, cellColors, 0, .55, [0,.2,.4], (v) => String(+v.toFixed(1)), 6);
    colorbar(525, 463, 530, 532, cellColors, 0, .55, [0,.2,.4], (v) => (v === 0 ? "0" : String(+v.toFixed(1)).replace("0.", ".")), 5.5);
    text("Fraction", 527, 458, 6.2);
    text("Human labels", 4, 497, 7, { rotation: Math.PI / 2 });
    text("tsne cluster", 250, 548, 7);
  }

  return { animation: false, backgroundColor: "#fff", textStyle: { fontFamily: FONT }, grid, xAxis, yAxis, series, visualMap, graphic: { elements: graphic } };
}

export default function App() {
  const ref = useRef<HTMLDivElement>(null);
  useEffect(() => {
    document.body.style.margin = "0";
    const chart = echarts.init(ref.current!, undefined, { renderer: "svg" });
    chart.setOption(buildOption() as any);
    return () => chart.dispose();
  }, []);
  return <div ref={ref} style={{ width: 720, height: 552 }} />;
}
